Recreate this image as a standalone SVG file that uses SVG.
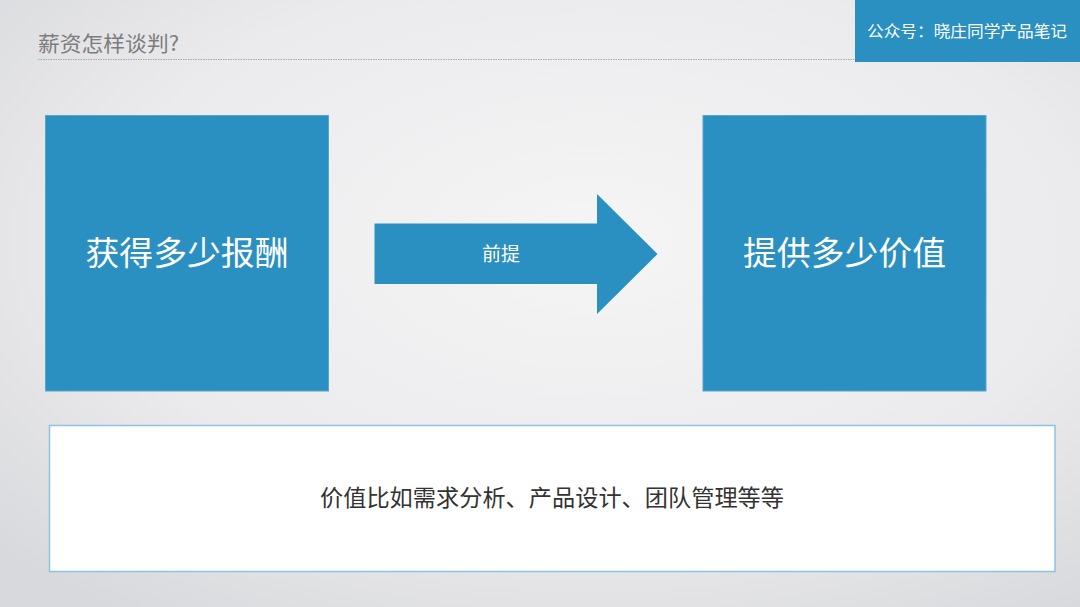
<svg xmlns="http://www.w3.org/2000/svg" width="1080" height="607" viewBox="0 0 1080 607">
  <defs>
    <radialGradient id="bg" cx="0.55" cy="0.4" r="0.75">
      <stop offset="0" stop-color="#f5f5f6"/>
      <stop offset="0.6" stop-color="#ebebed"/>
      <stop offset="1" stop-color="#d8d9dc"/>
    </radialGradient>
    <style>
      .blue { fill: #2a8fc1; }
      .wt { fill: #ffffff; font-family: "Noto Sans CJK SC", "Noto Sans", sans-serif; text-anchor: middle; }
      .dk { font-family: "Noto Sans CJK SC", "Noto Sans", sans-serif; }
    </style>
  </defs>
  <rect x="0" y="0" width="1080" height="607" fill="url(#bg)"/>

  <g id="title">
    <text x="38" y="51" class="dk" font-size="21" fill="#7d7d7d" textLength="141" lengthAdjust="spacingAndGlyphs">薪资怎样谈判?</text>
    <line x1="38" y1="59.5" x2="855" y2="59.5" stroke="#a8a8a8" stroke-width="1" stroke-dasharray="1.5 1"/>
  </g>

  <g id="badge">
    <rect x="855" y="0" width="225" height="62" class="blue"/>
    <text x="967" y="37" class="wt" font-size="16" textLength="200" lengthAdjust="spacingAndGlyphs">公众号：晓庄同学产品笔记</text>
  </g>

  <g id="node-left">
    <rect x="45.5" y="115.5" width="283" height="275.5" class="blue" stroke="#5aa4cc" stroke-width="1"/>
    <text x="187" y="265" class="wt" font-size="33" textLength="203" lengthAdjust="spacingAndGlyphs">获得多少报酬</text>
  </g>

  <g id="connectors">
    <polygon points="374.5,223.5 597,223.5 597,194 657.5,254 597,314 597,284 374.5,284" class="blue"/>
    <text x="501" y="260.5" class="wt" font-size="19">前提</text>
  </g>

  <g id="node-right">
    <rect x="703" y="115.5" width="283" height="275.5" class="blue" stroke="#5aa4cc" stroke-width="1"/>
    <text x="844.5" y="265" class="wt" font-size="33" textLength="203" lengthAdjust="spacingAndGlyphs">提供多少价值</text>
  </g>

  <g id="note">
    <rect x="49.5" y="425.5" width="1005.5" height="146" fill="#ffffff" stroke="#8cc3e0" stroke-width="1.5"/>
    <text x="552" y="506" class="dk" font-size="23" fill="#333333" text-anchor="middle" textLength="464" lengthAdjust="spacingAndGlyphs">价值比如需求分析、产品设计、团队管理等等</text>
  </g>
</svg>
